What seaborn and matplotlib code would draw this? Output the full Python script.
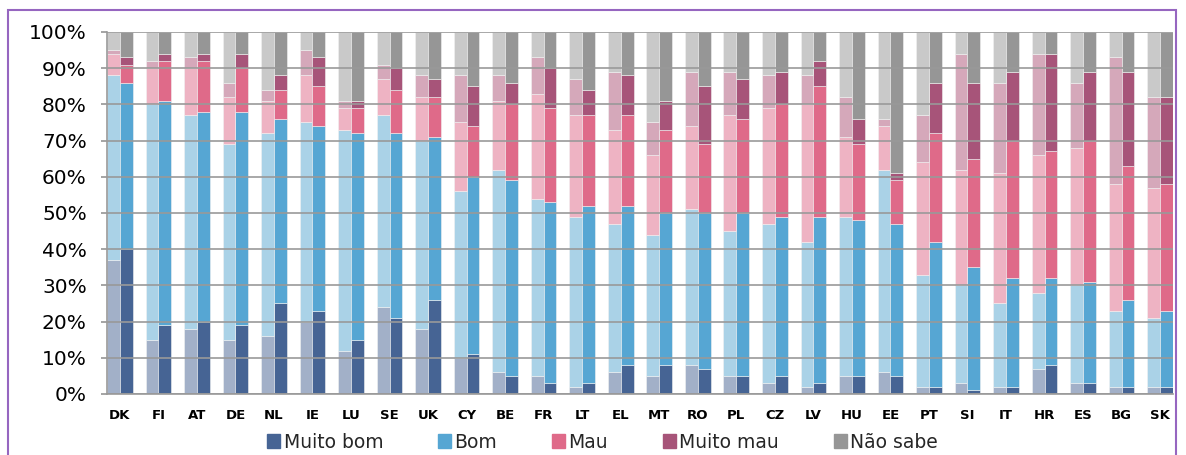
import numpy as np
import matplotlib
matplotlib.use("Agg")
import matplotlib.pyplot as plt
from matplotlib.patches import Rectangle, Patch
import seaborn as sns

countries = ['DK', 'FI', 'AT', 'DE', 'NL', 'IE', 'LU', 'SE', 'UK', 'CY', 'BE', 'FR', 'LT', 'EL',
             'MT', 'RO', 'PL', 'CZ', 'LV', 'HU', 'EE', 'PT', 'SI', 'IT', 'HR', 'ES', 'BG', 'SK']
categories = ['Muito bom', 'Bom', 'Mau', 'Muito mau', 'Não sabe']

# previous survey (lighter bars), % per category
old_muito_bom = [37, 15, 18, 15, 16, 20, 12, 24, 18, 10, 6, 5, 2, 6, 5, 8, 5, 3, 2, 5, 6, 2, 3, 2, 7, 3, 2, 2]
old_bom = [51, 65, 59, 54, 56, 55, 61, 53, 52, 46, 56, 49, 47, 41, 39, 43, 40, 44, 40, 44, 56, 31, 27, 23, 21, 27, 21, 19]
old_mau = [6, 10, 13, 13, 9, 13, 6, 10, 12, 19, 19, 29, 28, 26, 22, 23, 32, 32, 38, 22, 12, 31, 32, 36, 38, 38, 35, 36]
old_muito_mau = [1, 2, 3, 4, 3, 7, 2, 4, 6, 13, 7, 10, 10, 16, 9, 15, 12, 9, 8, 11, 2, 13, 32, 25, 28, 18, 35, 25]
old_nao_sabe = [5, 8, 7, 14, 16, 5, 19, 9, 12, 12, 12, 7, 13, 11, 25, 11, 11, 12, 12, 18, 24, 23, 6, 14, 6, 14, 7, 18]

# latest survey (darker bars)
new_muito_bom = [40, 19, 20, 19, 25, 23, 15, 21, 26, 11, 5, 3, 3, 8, 8, 7, 5, 5, 3, 5, 5, 2, 1, 2, 8, 3, 2, 2]
new_bom = [46, 62, 58, 59, 51, 51, 57, 51, 45, 49, 54, 50, 49, 44, 42, 43, 45, 44, 46, 43, 42, 40, 34, 30, 24, 28, 24, 21]
new_mau = [5, 11, 14, 12, 8, 11, 7, 12, 11, 14, 21, 26, 25, 25, 23, 19, 26, 31, 36, 21, 12, 30, 30, 38, 35, 39, 37, 35]
new_muito_mau = [2, 2, 2, 4, 4, 8, 2, 6, 5, 11, 6, 11, 7, 11, 8, 16, 11, 9, 7, 7, 2, 14, 21, 19, 27, 19, 26, 24]
new_nao_sabe = [7, 6, 6, 6, 12, 7, 19, 10, 13, 15, 14, 10, 16, 12, 19, 15, 13, 11, 8, 24, 39, 14, 14, 11, 6, 11, 11, 18]

dark_colors = ['#466494', '#56A6D3', '#DF6A89', '#A75479', '#969696']
light_colors = ['#A2B0C8', '#AAD2E7', '#EEB3C3', '#D5A8BA', '#C9C9C9']

sns.set_theme(style="white")
plt.rcParams['font.family'] = ['DejaVu Sans']

fig = plt.figure(figsize=(11.86, 4.55), dpi=100)
ax = fig.add_axes([0.0902, 0.1341, 0.8988, 0.7956])

x = np.arange(len(countries))
w = 1 / 3
old_series = [old_muito_bom, old_bom, old_mau, old_muito_mau, old_nao_sabe]
new_series = [new_muito_bom, new_bom, new_mau, new_muito_mau, new_nao_sabe]

bottom_old = np.zeros(len(countries))
bottom_new = np.zeros(len(countries))
for i in range(len(categories)):
    ax.bar(x - w / 2, old_series[i], w, bottom=bottom_old, color=light_colors[i],
           edgecolor='#F2F2F2', linewidth=0.4, zorder=1)
    ax.bar(x + w / 2, new_series[i], w, bottom=bottom_new, color=dark_colors[i],
           edgecolor='#F2F2F2', linewidth=0.4, zorder=1, label=categories[i])
    bottom_old += np.array(old_series[i])
    bottom_new += np.array(new_series[i])

ax.set_xlim(-w, len(countries) - 1 + w)
ax.set_ylim(0, 100)
ax.set_yticks(np.arange(0, 101, 10))
ax.set_yticklabels([f'{v}%' for v in range(0, 101, 10)], fontsize=14.5)
ax.set_xticks(x)
ax.set_xticklabels(countries, fontsize=9.5, fontweight='bold')
ax.yaxis.grid(True, color='#999999', linewidth=1.2, zorder=3)
ax.set_axisbelow(False)
for s in ['top', 'right']:
    ax.spines[s].set_visible(False)
for s in ['left', 'bottom']:
    ax.spines[s].set_color('#999999')
    ax.spines[s].set_linewidth(1.2)
ax.tick_params(axis='y', left=True, length=4.5, color='#999999', pad=10, labelcolor='black')
ax.tick_params(axis='x', bottom=False, pad=5, labelcolor='black')

handles = [Patch(color=c) for c in dark_colors]
leg = fig.legend(handles, categories, loc='center', ncol=5, frameon=False,
                 bbox_to_anchor=(0.508, 1 - 442 / 455), handlelength=0.7, handleheight=0.7,
                 handletextpad=0.2, columnspacing=2.9,
                 prop={'size': 13.5})

fig.patches.append(Rectangle((8 / 1186, -0.05), 1168 / 1186, 1.05 - 10 / 455, transform=fig.transFigure,
                             fill=False, edgecolor='#9666C0', linewidth=1.5))

fig.savefig('out.png', dpi=100)
